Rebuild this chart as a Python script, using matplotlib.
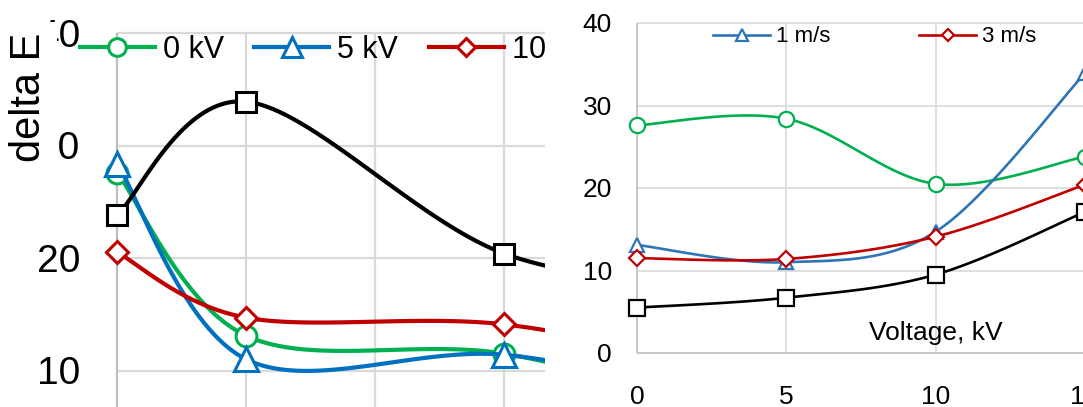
import matplotlib
matplotlib.use("Agg")
import matplotlib.pyplot as plt
import numpy as np
from matplotlib.lines import Line2D
from matplotlib.patches import Rectangle
from matplotlib.transforms import Bbox, TransformedBbox, blended_transform_factory, offset_copy

plt.rcParams["font.family"] = ["Liberation Sans", "DejaVu Sans"]

W, H = 1083, 407

# delta E table: one list per air speed, values at each voltage
voltage = [0, 5, 10, 15]
speed = [0, 1, 3, 5]
de_0ms = [27.6, 28.4, 20.5, 23.8]
de_1ms = [13.1, 11.0, 14.7, 33.9]
de_3ms = [11.5, 11.4, 14.1, 20.4]
de_5ms = [5.5, 6.7, 9.5, 17.1]

left_labels = ["0 kV", "5 kV", "10 kV", "15 kV"]
right_labels = ["0 m/s", "1 m/s", "3 m/s", "5 m/s"]
left_yticks = [40, 30, 20, 10]
right_yticks = [0, 10, 20, 30, 40]
right_xticks = [0, 5, 10, 15]

colors = ["#00b050", "#0070c0", "#c00000", "#000000"]
colors_r = ["#00b050", "#2e75b6", "#c00000", "#000000"]
markers = ["o", "^", "D", "s"]
GRID = "#d9d9d9"
SPINE = "#bfbfbf"
CAP = 0.716  # digit height / font size (Liberation Sans)


def smooth(x, y, n=40):
    """Excel style smoothed line (bezier, control points at 1/6 of neighbour span)."""
    p = np.column_stack([x, y]).astype(float)
    pts = np.vstack([p[0], p, p[-1]])
    t = np.linspace(0, 1, n)[:, None]
    out = []
    for i in range(1, len(pts) - 2):
        p0, p1, p2, p3 = pts[i - 1], pts[i], pts[i + 1], pts[i + 2]
        c1 = p1 + (p2 - p0) / 6
        c2 = p2 - (p3 - p1) / 6
        seg = (1 - t) ** 3 * p1 + 3 * (1 - t) ** 2 * t * c1 + 3 * (1 - t) * t ** 2 * c2 + t ** 3 * p2
        out.append(seg if i == 1 else seg[1:])
    s = np.vstack(out)
    return s[:, 0], s[:, 1]


fig = plt.figure(figsize=(W / 100, H / 100), dpi=100)

# ---------------- left panel: delta E vs speed, one line per voltage
axL = fig.add_axes([0, 0, 545 / W, 1])
axL.set_axis_off()
xpx = 129.0   # px per m/s
ypx = 11.25   # px per unit
axL.set_xlim(-117 / xpx, 428 / xpx)
axL.set_ylim(40 - 374 / ypx, 40 + 33 / ypx)
ymin, _ = axL.get_ylim()
_, xmax = axL.get_xlim()

axL.hlines(left_yticks, 0, xmax, color=GRID, lw=1.6, zorder=1)
axL.vlines([1, 2, 3], ymin, 40, color=GRID, lw=1.6, zorder=1)
axL.vlines([0], ymin, 40, color=SPINE, lw=1.6, zorder=1)

table = np.array([de_0ms, de_1ms, de_3ms, de_5ms])
for j in range(len(voltage)):
    vals = table[:, j]
    sx, sy = smooth(speed, vals)
    axL.plot(sx, sy, color=colors[j], lw=3.0, zorder=2 + j, solid_capstyle="round")
    axL.plot(speed, vals, ls="none", marker=markers[j],
             ms=[15, 17, 11, 15][j], mfc="white", mec=colors[j], mew=2.2, zorder=2 + j)

fsL = 28
ytr = offset_copy(blended_transform_factory(axL.transAxes, axL.transData),
                  fig=fig, y=-fsL * CAP / 2, units="points")
for v in left_yticks:
    axL.text(80 / 545, v, str(v), transform=ytr, ha="right", va="baseline", fontsize=fsL, zorder=3)

handlesL = [Line2D([], [], color=colors[j], lw=3.0, marker=markers[j],
                   ms=[15, 17, 11][j] * 0.85, mfc="white", mec=colors[j], mew=2.2)
            for j in range(3)]
legL = axL.legend(handlesL, left_labels[:3], loc="center left",
                  bbox_to_anchor=(80 / W, 1 - 50 / H), bbox_transform=fig.transFigure,
                  ncol=3, frameon=False, fontsize=22, borderpad=0, borderaxespad=0,
                  handlelength=2.45, handletextpad=0.26, columnspacing=1.0)
for a in legL.findobj():
    a.set_clip_box(axL.bbox)
    a.set_clip_on(True)

# white box hiding the first digits of the two top tick labels
fig.add_artist(Rectangle((33 / W, 1 - 170 / H), 24 / W, 148 / H, transform=fig.transFigure,
                         facecolor="white", edgecolor="none", zorder=5))
fig.text(29 / W, 1 - 97 / H, "delta E", rotation=90, ha="center", va="center",
         fontsize=30, zorder=6)

# ---------------- right panel: delta E vs voltage, one line per speed
axR = fig.add_axes([545 / W, 0, 538 / W, 1])
axR.set_axis_off()
rx = 149.3 / 5   # px per kV
ry = 8.25        # px per unit
axR.set_xlim(-92 / rx, (1083 - 637) / rx)
axR.set_ylim(-(407 - 353) / ry, 353 / ry)
_, rxmax = axR.get_xlim()

axR.hlines([10, 20, 30, 40], 0, rxmax, color=GRID, lw=1.2, zorder=1)
axR.vlines([5, 10, 15], 0, 40, color=GRID, lw=1.2, zorder=1)
axR.vlines([0], 0, 40, color=SPINE, lw=1.2, zorder=1)
axR.hlines([0], 0, rxmax, color=SPINE, lw=1.2, zorder=1)

rows = [de_0ms, de_1ms, de_3ms, de_5ms]
for i, vals in enumerate(rows):
    sx, sy = smooth(voltage, vals)
    axR.plot(sx, sy, color=colors_r[i], lw=1.9, zorder=2 + i)
    axR.plot(voltage, vals, ls="none", marker=markers[i],
             ms=[11, 10, 8, 11][i], mfc="white", mec=colors_r[i], mew=1.6, zorder=2 + i)

fsR = 19
rtr = offset_copy(blended_transform_factory(axR.transAxes, axR.transData),
                  fig=fig, y=-fsR * CAP / 2, units="points")
for v in right_yticks:
    axR.text((612 - 545) / 538, v, str(v), transform=rtr, ha="right", va="baseline", fontsize=fsR)
xtr = offset_copy(axR.transData, fig=fig, y=-fsR * CAP / 2, units="points")
for v in right_xticks:
    axR.text(v, -(395 - 353) / ry, str(v), transform=xtr, ha="center", va="baseline", fontsize=fsR)

axR.text(10, 2.4, "Voltage, kV", ha="center", va="center", fontsize=19)

handlesR = [Line2D([], [], color=colors_r[i], lw=1.9, marker=markers[i],
                   ms=[10, 8][k] * 0.8, mfc="white", mec=colors_r[i], mew=1.6)
            for k, i in enumerate([1, 2])]
legR = axR.legend(handlesR, [right_labels[1], right_labels[2]], loc="center left",
                  bbox_to_anchor=(713 / W, 1 - 37 / H), bbox_transform=fig.transFigure,
                  ncol=2, frameon=False, fontsize=16, borderpad=0, borderaxespad=0,
                  handlelength=2.57, handletextpad=0.27, columnspacing=4.0)
clipR = TransformedBbox(Bbox([[0, 1 - 43 / H], [1, 1]]), fig.transFigure)
for a in legR.findobj():
    a.set_clip_box(clipR)
    a.set_clip_on(True)

fig.savefig("out.png", dpi=100)
